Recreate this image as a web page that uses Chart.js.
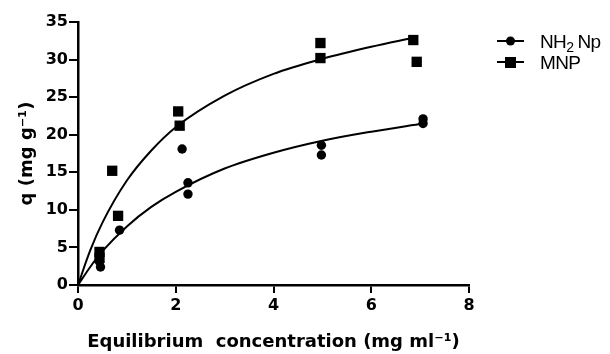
<!DOCTYPE html>
<html>
<head>
<meta charset="utf-8">
<script src="https://cdn.jsdelivr.net/npm/chart.js@4/dist/chart.umd.min.js"></script>
<style>
  html, body { margin: 0; background: #fff; }
</style>
</head>
<body>
<canvas id="myChart" width="610" height="354"></canvas>
<script>
const nh2X = [0.44, 0.46, 0.85, 2.13, 2.25, 2.25, 4.98, 4.98, 7.06, 7.06];
const nh2Y = [3.1, 2.4, 7.3, 18.1, 13.6, 12.1, 18.6, 17.3, 22.1, 21.5];
const mnpX = [0.44, 0.44, 0.70, 0.82, 2.05, 2.08, 4.96, 4.96, 6.86, 6.93];
const mnpY = [4.4, 3.6, 15.2, 9.2, 23.1, 21.2, 32.2, 30.2, 32.6, 29.7];

// fitted curves
const nh2FitX = [0, 0.25, 0.5, 1, 1.5, 2, 3, 4, 5, 6, 7.06];
const nh2FitY = [0, 2.4, 4.5, 7.8, 10.4, 12.4, 15.5, 17.6, 19.2, 20.4, 21.5];
const mnpFitX = [0, 0.25, 0.5, 1, 1.5, 2, 3, 4, 5, 6, 6.86];
const mnpFitY = [0, 4.6, 8.3, 13.9, 17.9, 21.0, 25.2, 28.1, 30.1, 31.7, 32.9];

const xTicks = [0, 2, 4, 6, 8];
const yTicks = [0, 5, 10, 15, 20, 25, 30, 35];

// legend text split so the subscript can be drawn smaller
const legendLabels = [["NH", "2", " Np"], ["MNP", "", ""]];
const legendStyles = ["circle", "rect"];

const toPoints = (xs, ys) => xs.map((x, i) => ({ x: x, y: ys[i] }));

const BOLD = "'DejaVu Sans', 'Liberation Sans', sans-serif";
const PLAIN = "'Liberation Sans', Arial, sans-serif";

// legend drawn by hand: line + marker like the original
const sideLegend = {
  id: "sideLegend",
  afterDraw(chart) {
    const ctx = chart.ctx;
    ctx.save();
    legendLabels.forEach((parts, i) => {
      const y = 41 + i * 21;
      ctx.strokeStyle = "#000";
      ctx.lineWidth = 2;
      ctx.beginPath();
      ctx.moveTo(497, y);
      ctx.lineTo(524, y);
      ctx.stroke();
      ctx.fillStyle = "#000";
      if (legendStyles[i] == "circle") {
        ctx.beginPath();
        ctx.arc(510.5, y, 4.5, 0, Math.PI * 2);
        ctx.fill();
      } else {
        ctx.fillRect(505, y - 5, 11, 11);
      }
      ctx.textBaseline = "alphabetic";
      ctx.letterSpacing = "-0.6px";
      let x = 540;
      const base = y + 7;
      ctx.font = "19px " + PLAIN;
      ctx.fillText(parts[0], x, base);
      x += ctx.measureText(parts[0]).width;
      if (parts[1]) {
        ctx.font = "14px " + PLAIN;
        ctx.fillText(parts[1], x, base + 4);
        x += ctx.measureText(parts[1]).width + 4;
        ctx.font = "19px " + PLAIN;
        ctx.fillText(parts[2].trim(), x, base);
      }
    });
    ctx.restore();
  }
};

new Chart(document.getElementById("myChart"), {
  type: "scatter",
  data: {
    datasets: [
      {
        label: "NH2 Np",
        data: toPoints(nh2X, nh2Y),
        pointStyle: "circle",
        pointRadius: 4.7,
        backgroundColor: "#000",
        borderColor: "#000",
        borderWidth: 0
      },
      {
        label: "MNP",
        data: toPoints(mnpX, mnpY),
        pointStyle: "rect",
        pointRadius: 7.3,
        backgroundColor: "#000",
        borderColor: "#000",
        borderWidth: 0
      },
      {
        data: toPoints(nh2FitX, nh2FitY),
        showLine: true,
        pointRadius: 0,
        borderColor: "#000",
        borderWidth: 2,
        cubicInterpolationMode: "monotone"
      },
      {
        data: toPoints(mnpFitX, mnpFitY),
        showLine: true,
        pointRadius: 0,
        borderColor: "#000",
        borderWidth: 2,
        cubicInterpolationMode: "monotone"
      }
    ]
  },
  options: {
    responsive: false,
    animation: false,
    layout: { padding: { top: 22, right: 141, left: 0, bottom: 0 } },
    plugins: {
      legend: { display: false },
      tooltip: { enabled: false }
    },
    scales: {
      x: {
        type: "linear",
        min: 0,
        max: 8,
        afterBuildTicks: (s) => { s.ticks = xTicks.map(v => ({ value: v })); },
        afterFit: (s) => { s.height = 69; },
        grid: { drawOnChartArea: false, color: "#000", lineWidth: 2, tickLength: 8 },
        border: { color: "#000", width: 2.5 },
        ticks: { color: "#000", padding: 3, font: { family: BOLD, size: 16, weight: "bold" } },
        title: {
          display: true,
          text: "Equilibrium  concentration (mg ml\u207B\u00B9)",
          color: "#000",
          padding: { top: 4, bottom: 1 },
          font: { family: BOLD, size: 18, weight: "bold" }
        }
      },
      y: {
        type: "linear",
        min: 0,
        max: 35,
        afterBuildTicks: (s) => { s.ticks = yTicks.map(v => ({ value: v })); },
        afterFit: (s) => { s.width = 78; },
        grid: { drawOnChartArea: false, color: "#000", lineWidth: 2, tickLength: 9 },
        border: { color: "#000", width: 2.5 },
        ticks: { color: "#000", padding: 1, font: { family: BOLD, size: 16, weight: "bold" } },
        title: {
          display: true,
          text: "q (mg g\u207B\u00B9)",
          color: "#000",
          padding: { top: 17, bottom: 0 },
          font: { family: BOLD, size: 18, weight: "bold" }
        }
      }
    }
  },
  plugins: [sideLegend]
});
</script>
</body>
</html>
